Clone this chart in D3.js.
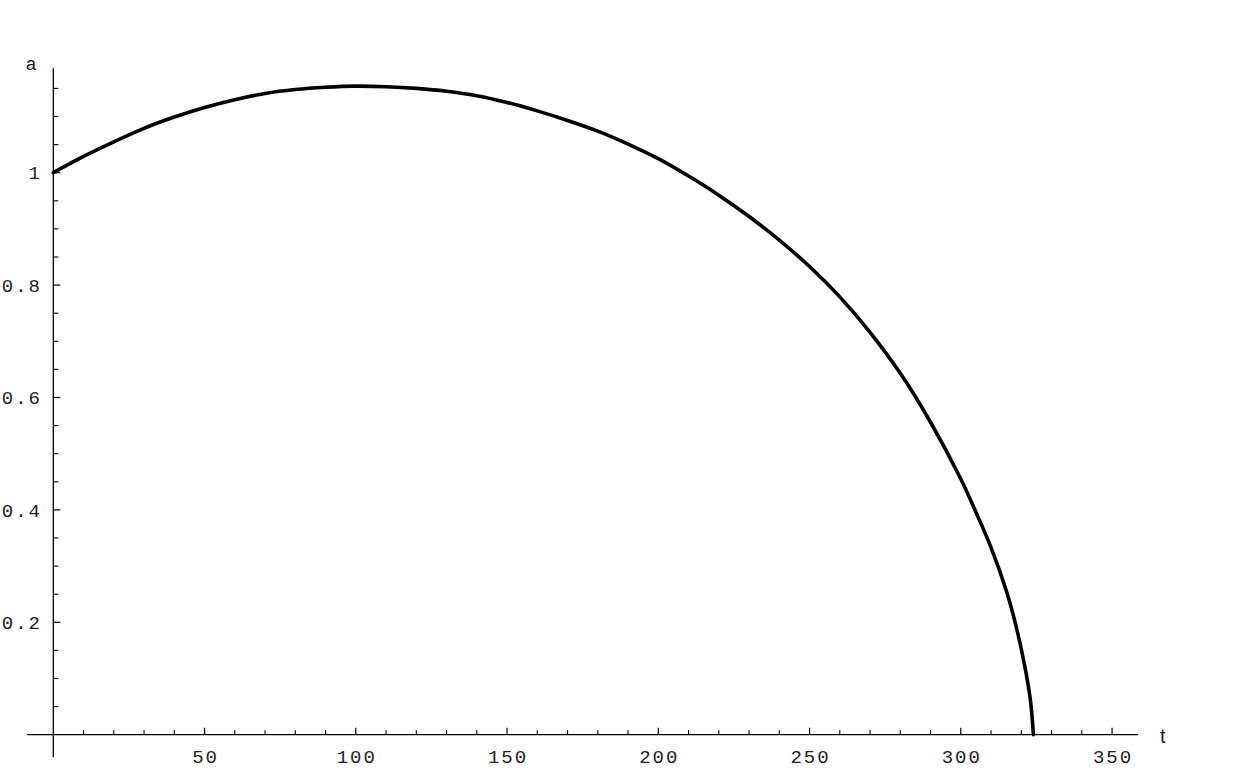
<!DOCTYPE html>
<html>
<head>
<meta charset="utf-8">
<script src="https://cdn.jsdelivr.net/npm/d3@7"></script>
<style>
  html, body { margin: 0; padding: 0; background: #fff; }
  svg { display: block; }
</style>
</head>
<body>
<svg id="chart" width="1236" height="771"></svg>
<script>
// ---- data ----
const tValues = [0, 10, 20, 30, 40, 50, 60, 70, 80, 90, 100, 110, 120, 130, 140, 150, 160, 170, 180, 190, 200, 210, 220, 230, 240, 250, 260, 270, 280, 290, 300, 305, 310, 315, 318, 321, 323, 324];
const aValues = [1.000, 1.029, 1.055, 1.079, 1.099, 1.116, 1.130, 1.141, 1.148, 1.152, 1.154, 1.153, 1.150, 1.145, 1.137, 1.125, 1.110, 1.093, 1.074, 1.051, 1.025, 0.994, 0.960, 0.922, 0.880, 0.833, 0.779, 0.716, 0.643, 0.556, 0.455, 0.396, 0.333, 0.257, 0.199, 0.126, 0.062, 0.000];
const xMajorTicks = [50, 100, 150, 200, 250, 300, 350];
const xMinorTicks = [10, 20, 30, 40, 60, 70, 80, 90, 110, 120, 130, 140, 160, 170, 180, 190, 210, 220, 230, 240, 260, 270, 280, 290, 310, 320, 330, 340];
const yMajorTicks = [0.2, 0.4, 0.6, 0.8, 1];
const yMinorTicks = [0.05, 0.1, 0.15, 0.25, 0.3, 0.35, 0.45, 0.5, 0.55, 0.65, 0.7, 0.75, 0.85, 0.9, 0.95, 1.05, 1.1, 1.15];
const xTickLabels = ["50", "100", "150", "200", "250", "300", "350"];
const yTickLabels = ["0.2", "0.4", "0.6", "0.8", "1"];
const xAxisTitle = "t";
const yAxisTitle = "a";
const xAxisDomain = [-8.7, 358.6];
const yAxisDomain = [-0.04, 1.186];

// ---- layout ----
const svg = d3.select("#chart");
const x = d3.scaleLinear().domain([0, 350]).range([53.3, 53.3 + 350 * 3.025]);
const y = d3.scaleLinear().domain([0, 1]).range([734.7, 172.7]);
const labelFont = "'Liberation Mono', 'DejaVu Sans Mono', monospace";
const titleFont = "'Liberation Sans', Arial, sans-serif";

// axes lines
svg.append("line")
  .attr("x1", x(xAxisDomain[0])).attr("x2", x(xAxisDomain[1]))
  .attr("y1", y(0)).attr("y2", y(0))
  .attr("stroke", "#000").attr("stroke-width", 1.3);
svg.append("line")
  .attr("x1", x(0)).attr("x2", x(0))
  .attr("y1", y(yAxisDomain[0])).attr("y2", y(yAxisDomain[1]))
  .attr("stroke", "#000").attr("stroke-width", 1.3);

// x ticks
svg.append("g").selectAll("line.xmaj").data(xMajorTicks).join("line")
  .attr("x1", d => x(d)).attr("x2", d => x(d))
  .attr("y1", y(0)).attr("y2", y(0) - 7)
  .attr("stroke", "#000").attr("stroke-width", 1.2);
svg.append("g").selectAll("line.xmin").data(xMinorTicks).join("line")
  .attr("x1", d => x(d)).attr("x2", d => x(d))
  .attr("y1", y(0)).attr("y2", y(0) - 4.5)
  .attr("stroke", "#000").attr("stroke-width", 1.1);
svg.append("g").selectAll("text").data(xMajorTicks).join("text")
  .attr("x", (d, i) => x(d) + 1)
  .attr("y", y(0) + 28)
  .attr("text-anchor", "middle")
  .attr("font-family", labelFont)
  .attr("font-size", 19)
  .attr("letter-spacing", 2)
  .attr("fill", "#222")
  .text((d, i) => xTickLabels[i]);

// y ticks
svg.append("g").selectAll("line.ymaj").data(yMajorTicks).join("line")
  .attr("x1", x(0)).attr("x2", x(0) + 7)
  .attr("y1", d => y(d)).attr("y2", d => y(d))
  .attr("stroke", "#000").attr("stroke-width", 1.2);
svg.append("g").selectAll("line.ymin").data(yMinorTicks).join("line")
  .attr("x1", x(0)).attr("x2", x(0) + 5)
  .attr("y1", d => y(d)).attr("y2", d => y(d))
  .attr("stroke", "#000").attr("stroke-width", 1.1);
svg.append("g").selectAll("text").data(yMajorTicks).join("text")
  .attr("x", 42)
  .attr("y", d => y(d))
  .attr("dy", "0.35em")
  .attr("text-anchor", "end")
  .attr("font-family", labelFont)
  .attr("font-size", 19)
  .attr("letter-spacing", 2)
  .attr("fill", "#222")
  .text((d, i) => yTickLabels[i]);

// axis titles
svg.append("text")
  .attr("x", 26).attr("y", 70)
  .attr("font-family", titleFont).attr("font-size", 18).attr("fill", "#222")
  .text(yAxisTitle);
svg.append("text")
  .attr("x", 1160).attr("y", 743)
  .attr("font-family", titleFont).attr("font-size", 20).attr("fill", "#222")
  .text(xAxisTitle);

// curve
const pts = tValues.map((t, i) => [t, aValues[i]]);
const line = d3.line().x(d => x(d[0])).y(d => y(d[1])).curve(d3.curveCatmullRom.alpha(0.5));
svg.append("path")
  .attr("d", line(pts))
  .attr("fill", "none")
  .attr("stroke", "#000")
  .attr("stroke-width", 3.6)
  .attr("stroke-linecap", "round")
  .attr("stroke-linejoin", "round");
</script>
</body>
</html>
